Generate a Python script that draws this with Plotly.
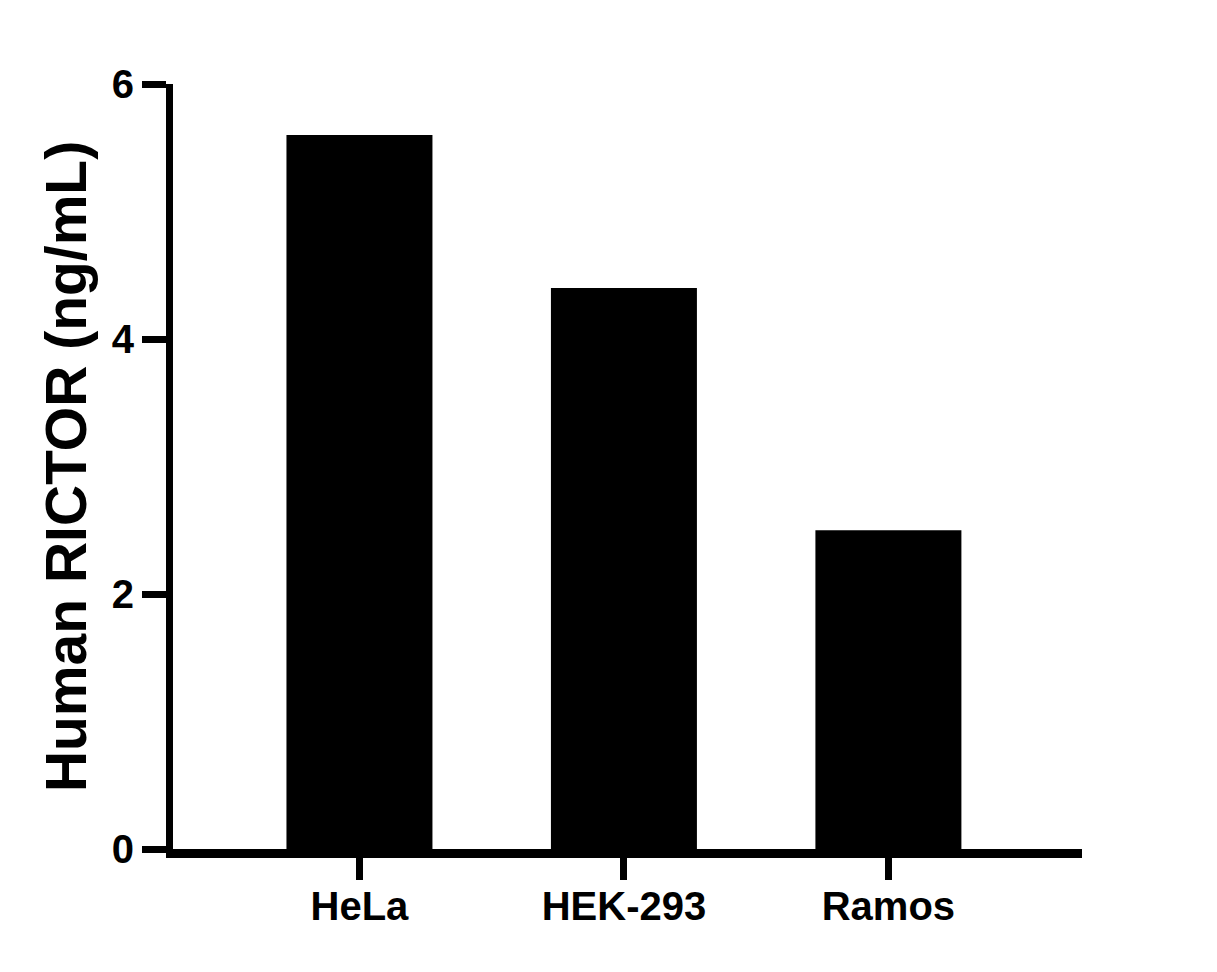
import plotly.graph_objects as go

# cell lines and measured RICTOR level
cell_lines = ["HeLa", "HEK-293", "Ramos"]
rictor_ng_ml = [5.6, 4.4, 2.5]

y_ticks = [0, 2, 4, 6]

FONT = "Liberation Sans, Arial, sans-serif"

fig = go.Figure()
fig.add_trace(go.Bar(
    x=cell_lines,
    y=rictor_ng_ml,
    width=0.552,
    marker=dict(color="black", line=dict(width=0)),
))

# page body adds 8px offset, margins compensate for it
fig.update_layout(
    width=1217, height=972,
    margin=dict(l=165, r=143, t=76, b=131),
    paper_bgcolor="white", plot_bgcolor="white",
    showlegend=False,
    font=dict(family=FONT, color="black"),
)

fig.update_xaxes(
    type="category",
    range=[-0.705, 2.732],
    showline=True, linewidth=9, linecolor="black",
    ticks="outside", ticklen=22, tickwidth=7, tickcolor="black",
    ticklabelstandoff=-8,
    tickfont=dict(family=FONT, size=40, color="black", weight="bold"),
    showgrid=False, zeroline=False,
)

fig.update_yaxes(
    range=[0, 6],
    tickvals=y_ticks,
    showline=True, linewidth=7, linecolor="black",
    ticks="outside", ticklen=24, tickwidth=7, tickcolor="black",
    tickfont=dict(family=FONT, size=40, color="black", weight="bold"),
    showgrid=False, zeroline=False,
    title=dict(text="Human RICTOR (ng/mL)", standoff=9,
               font=dict(family=FONT, size=57, color="black", weight="bold")),
)

fig.write_html("out.html")
